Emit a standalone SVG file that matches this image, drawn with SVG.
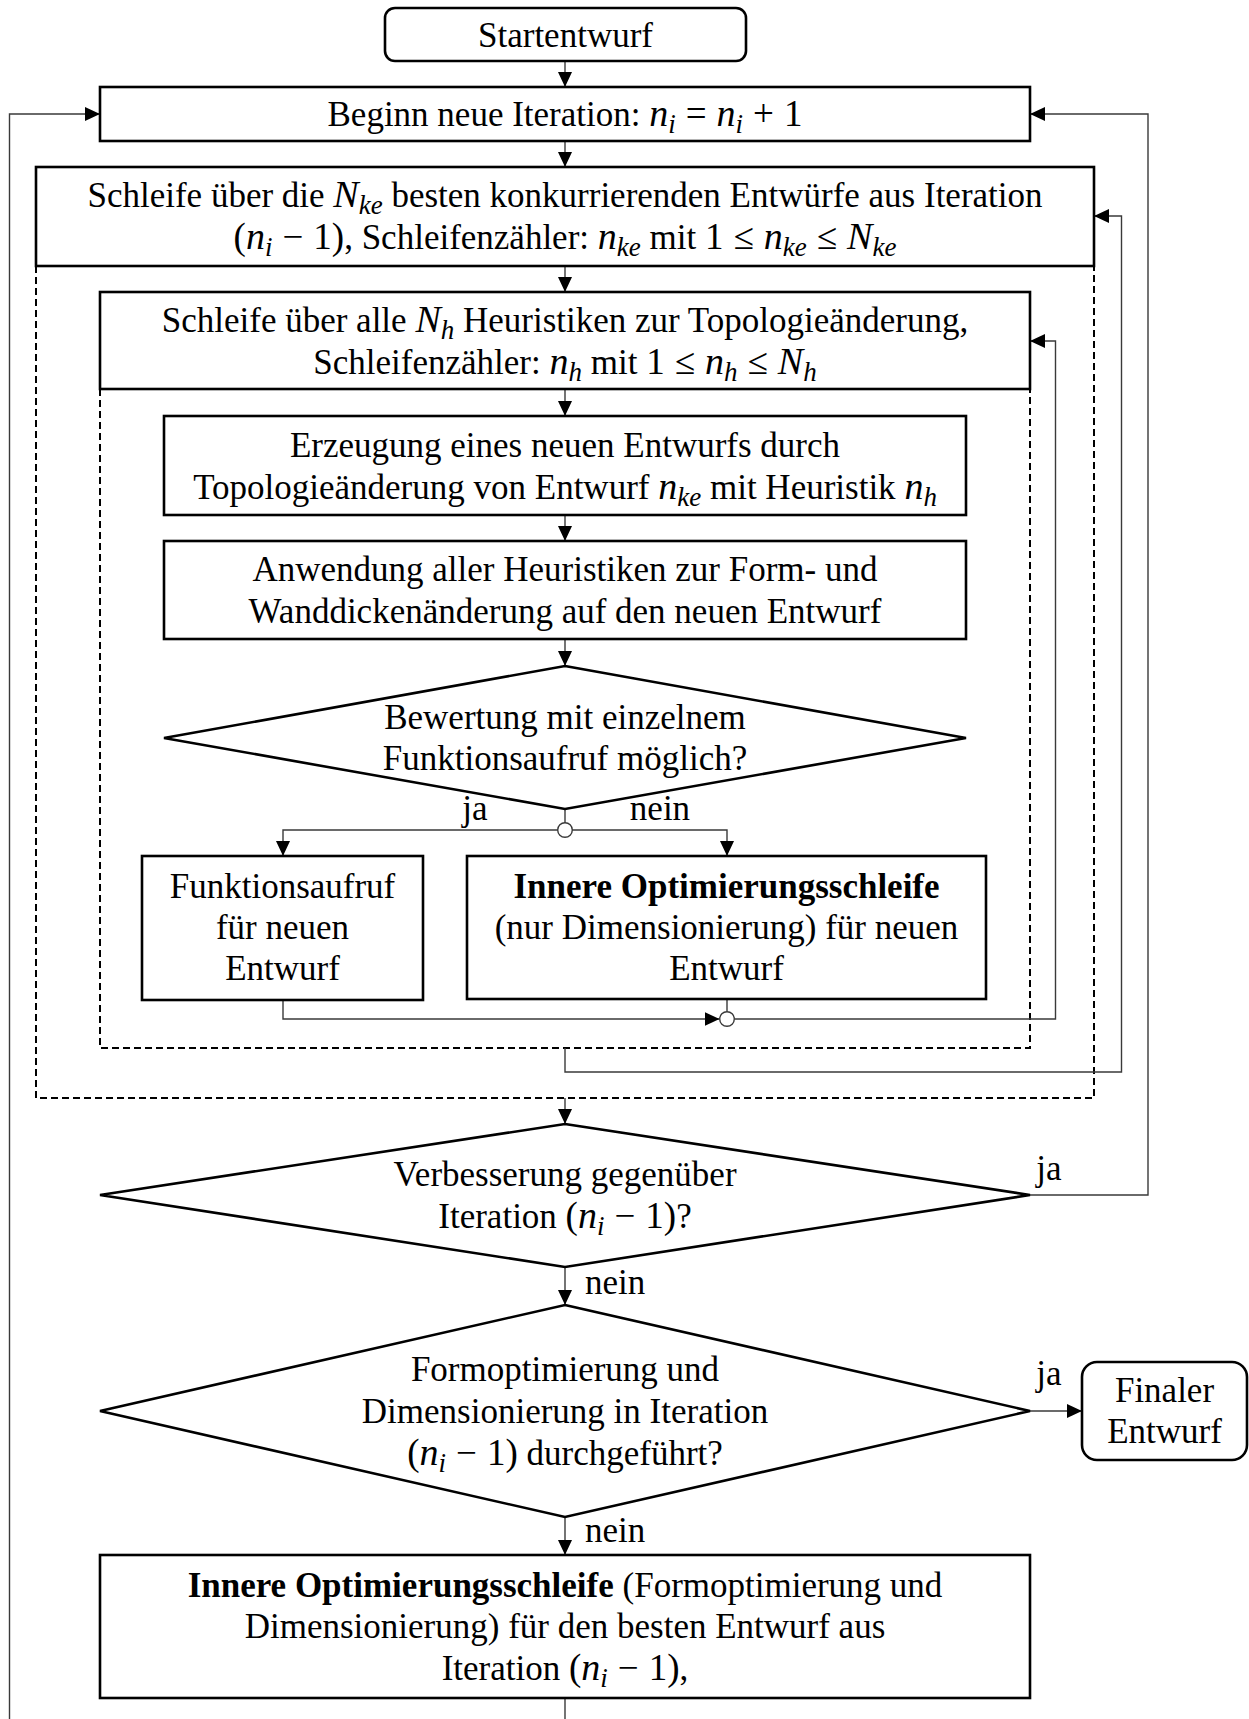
<svg xmlns="http://www.w3.org/2000/svg" width="1249" height="1719" viewBox="0 0 1249 1719">
  <defs>
    <marker id="arrow" markerUnits="userSpaceOnUse" markerWidth="15" markerHeight="14" refX="15" refY="7" orient="auto">
      <path d="M0,0 L15,7 L0,14 z" fill="#000"/>
    </marker>
    <style>
      .box { fill: #fff; stroke: #000; stroke-width: 2.6; }
      .dash { fill: none; stroke: #000; stroke-width: 2; stroke-dasharray: 7 4; }
      .con { fill: none; stroke: #3a3a3a; stroke-width: 1.4; }
      .arr { fill: none; stroke: #3a3a3a; stroke-width: 1.4; marker-end: url(#arrow); }
      .node { fill: #fff; stroke: #3a3a3a; stroke-width: 1.4; }
      text { font-family: "Liberation Serif", "Times New Roman", serif; font-size: 35px; fill: #000; }
      .c { text-anchor: middle; }
      .m { font-style: italic; font-size: 38px; }
      .s { font-style: italic; font-size: 27px; }
      .o { font-size: 37px; }
      .b { font-weight: bold; }
    </style>
  </defs>

  <rect width="1249" height="1719" fill="#fff"/>

  <!-- loop frames (dashed) -->
  <g id="loop-frames">
    <path class="dash" d="M36,266 V1098 H1094 V266"/>
    <path class="dash" d="M100,389 V1048 H1030 V389"/>
  </g>

  <!-- connectors -->
  <g id="connectors">
    <path class="arr" d="M565,61 V87"/>
    <path class="arr" d="M565,141 V167"/>
    <path class="arr" d="M565,266 V292"/>
    <path class="arr" d="M565,389 V416"/>
    <path class="arr" d="M565,515 V541"/>
    <path class="arr" d="M565,639 V666"/>
    <!-- branch after first decision -->
    <path class="con" d="M565,809 V823"/>
    <path class="arr" d="M558,830 H283 V856"/>
    <path class="arr" d="M572,830 H727 V856"/>
    <!-- join after evaluation -->
    <path class="arr" d="M283,1000 V1019 H719.5"/>
    <path class="con" d="M727,999 V1011.5"/>
    <!-- heuristic loop return -->
    <path class="arr" d="M734.5,1019 H1055.5 V341 H1030"/>
    <!-- design loop return -->
    <path class="arr" d="M565,1048 V1072 H1121.5 V216 H1094"/>
    <!-- to improvement check -->
    <path class="arr" d="M565,1098 V1124"/>
    <!-- improvement: ja -> new iteration -->
    <path class="arr" d="M1030,1195 H1148 V114 H1030"/>
    <!-- improvement: nein -->
    <path class="arr" d="M565,1267 V1305"/>
    <!-- shape optimisation done: ja -> final -->
    <path class="arr" d="M1030,1411 H1082"/>
    <!-- shape optimisation done: nein -->
    <path class="arr" d="M565,1517 V1555"/>
    <!-- back to new iteration -->
    <path class="con" d="M565,1698 V1719"/>
    <path class="arr" d="M9.5,1719 V114 H100"/>
    <!-- junction points -->
    <circle class="node" cx="565" cy="830" r="7.3"/>
    <circle class="node" cx="727" cy="1019" r="7.3"/>
    <!-- connector labels -->
    <text x="475" y="820" class="c">ja</text>
    <text x="660" y="820" class="c">nein</text>
    <text x="1049" y="1180" class="c">ja</text>
    <text x="585" y="1294">nein</text>
    <text x="1049" y="1385" class="c">ja</text>
    <text x="585" y="1542">nein</text>
  </g>

  <g id="start">
    <rect class="box" x="385" y="8" width="361" height="53" rx="10"/>
    <text x="565.5" y="47" class="c">Startentwurf</text>
  </g>

  <g id="new-iteration">
    <rect class="box" x="100" y="87" width="930" height="54"/>
    <text x="565" y="126" class="c">Beginn neue Iteration: <tspan class="m">n</tspan><tspan class="s" dy="7">i</tspan><tspan class="o" dy="-7" dx="10">=</tspan><tspan class="m" dx="10">n</tspan><tspan class="s" dy="7">i</tspan><tspan class="o" dy="-7" dx="10">+</tspan><tspan class="o" dx="10">1</tspan></text>
  </g>

  <g id="design-loop">
    <rect class="box" x="36" y="167" width="1058" height="99"/>
    <text x="565" y="207" class="c">Schleife über die <tspan class="m">N</tspan><tspan class="s" dy="7">ke</tspan><tspan dy="-7"> besten konkurrierenden Entwürfe aus Iteration</tspan></text>
    <text x="565" y="249" class="c"><tspan class="o">(</tspan><tspan class="m">n</tspan><tspan class="s" dy="7">i</tspan><tspan class="o" dy="-7" dx="10">−</tspan><tspan class="o" dx="10">1)</tspan>, Schleifenzähler: <tspan class="m">n</tspan><tspan class="s" dy="7">ke</tspan><tspan dy="-7"> mit </tspan><tspan class="o">1</tspan><tspan class="o" dx="10">≤</tspan><tspan class="m" dx="10">n</tspan><tspan class="s" dy="7">ke</tspan><tspan class="o" dy="-7" dx="10">≤</tspan><tspan class="m" dx="10">N</tspan><tspan class="s" dy="7">ke</tspan></text>
  </g>

  <g id="heuristic-loop">
    <rect class="box" x="100" y="292" width="930" height="97"/>
    <text x="565" y="332" class="c">Schleife über alle <tspan class="m">N</tspan><tspan class="s" dy="7">h</tspan><tspan dy="-7"> Heuristiken zur Topologieänderung,</tspan></text>
    <text x="565" y="374" class="c">Schleifenzähler: <tspan class="m">n</tspan><tspan class="s" dy="7">h</tspan><tspan dy="-7"> mit </tspan><tspan class="o">1</tspan><tspan class="o" dx="10">≤</tspan><tspan class="m" dx="10">n</tspan><tspan class="s" dy="7">h</tspan><tspan class="o" dy="-7" dx="10">≤</tspan><tspan class="m" dx="10">N</tspan><tspan class="s" dy="7">h</tspan></text>
  </g>

  <g id="generate-design">
    <rect class="box" x="164" y="416" width="802" height="99"/>
    <text x="565" y="457" class="c">Erzeugung eines neuen Entwurfs durch</text>
    <text x="565" y="499" class="c">Topologieänderung von Entwurf <tspan class="m">n</tspan><tspan class="s" dy="7">ke</tspan><tspan dy="-7"> mit Heuristik </tspan><tspan class="m">n</tspan><tspan class="s" dy="7">h</tspan></text>
  </g>

  <g id="apply-heuristics">
    <rect class="box" x="164" y="541" width="802" height="98"/>
    <text x="565" y="581" class="c">Anwendung aller Heuristiken zur Form- und</text>
    <text x="565" y="623" class="c">Wanddickenänderung auf den neuen Entwurf</text>
  </g>

  <g id="single-call-check">
    <polygon class="box" points="565,666 966,738 565,809 164,738"/>
    <text x="565" y="729" class="c">Bewertung mit einzelnem</text>
    <text x="565" y="770" class="c">Funktionsaufruf möglich?</text>
  </g>

  <g id="function-call">
    <rect class="box" x="142" y="856" width="281" height="144"/>
    <text x="282.5" y="898" class="c">Funktionsaufruf</text>
    <text x="282.5" y="939" class="c">für neuen</text>
    <text x="282.5" y="980" class="c">Entwurf</text>
  </g>

  <g id="inner-sizing-loop">
    <rect class="box" x="467" y="856" width="519" height="143"/>
    <text x="726.5" y="898" class="c b">Innere Optimierungsschleife</text>
    <text x="726.5" y="939" class="c">(nur Dimensionierung) für neuen</text>
    <text x="726.5" y="980" class="c">Entwurf</text>
  </g>

  <g id="improvement-check">
    <polygon class="box" points="565,1124 1030,1195 565,1267 100,1195"/>
    <text x="565" y="1186" class="c">Verbesserung gegenüber</text>
    <text x="565" y="1228" class="c">Iteration <tspan class="o">(</tspan><tspan class="m">n</tspan><tspan class="s" dy="7">i</tspan><tspan class="o" dy="-7" dx="10">−</tspan><tspan class="o" dx="10">1)</tspan>?</text>
  </g>

  <g id="shape-opt-check">
    <polygon class="box" points="565,1305 1030,1411 565,1517 100,1411"/>
    <text x="565" y="1381" class="c">Formoptimierung und</text>
    <text x="565" y="1423" class="c">Dimensionierung in Iteration</text>
    <text x="565" y="1465" class="c"><tspan class="o">(</tspan><tspan class="m">n</tspan><tspan class="s" dy="7">i</tspan><tspan class="o" dy="-7" dx="10">−</tspan><tspan class="o" dx="10">1)</tspan> durchgeführt?</text>
  </g>

  <g id="final-design">
    <rect class="box" x="1082" y="1362" width="165" height="98" rx="15"/>
    <text x="1164.5" y="1402" class="c">Finaler</text>
    <text x="1164.5" y="1443" class="c">Entwurf</text>
  </g>

  <g id="inner-shape-loop">
    <rect class="box" x="100" y="1555" width="930" height="143"/>
    <text x="565" y="1597" class="c"><tspan class="b">Innere Optimierungsschleife</tspan> (Formoptimierung und</text>
    <text x="565" y="1638" class="c">Dimensionierung) für den besten Entwurf aus</text>
    <text x="565" y="1680" class="c">Iteration <tspan class="o">(</tspan><tspan class="m">n</tspan><tspan class="s" dy="7">i</tspan><tspan class="o" dy="-7" dx="10">−</tspan><tspan class="o" dx="10">1)</tspan>,</text>
  </g>
</svg>
